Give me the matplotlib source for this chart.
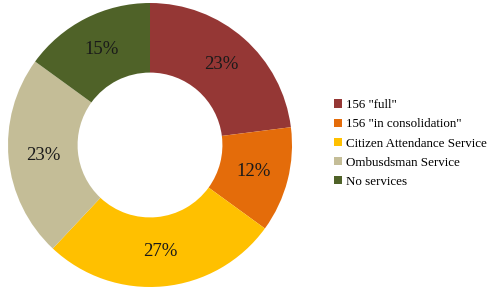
import matplotlib
matplotlib.use('Agg')
import matplotlib.pyplot as plt

labels = ['156 "full"', '156 "in consolidation"', 'Citizen Attendance Service',
          'Ombusdsman Service', 'No services']
values = [23, 12, 27, 23, 15]
colors = ['#953735', '#E46C0A', '#FFC000', '#C4BD97', '#4F6228']

plt.rcParams['font.family'] = ['Liberation Serif', 'DejaVu Serif']

fig = plt.figure(figsize=(4.97, 2.91), dpi=100)
ax = fig.add_axes([8 / 497, 4 / 291, 284 / 497, 284 / 291])
wedges, texts, autotexts = ax.pie(
    values, colors=colors, startangle=90, counterclock=False,
    autopct='%d%%', pctdistance=0.755,
    wedgeprops=dict(width=0.49, linewidth=0),
    textprops=dict(fontsize=13.5, color='#1a1a1a'))
ax.set_xlim(-1, 1)
ax.set_ylim(-1, 1)
ax.set_aspect('equal')

fig.legend(wedges, labels, loc='upper left', bbox_to_anchor=(329 / 497, 1 - 94 / 291),
           frameon=False, fontsize=9.4, handlelength=0.6, handleheight=0.6,
           handletextpad=0.3, labelspacing=0.55, borderaxespad=0)

fig.savefig('out.png', dpi=100)
